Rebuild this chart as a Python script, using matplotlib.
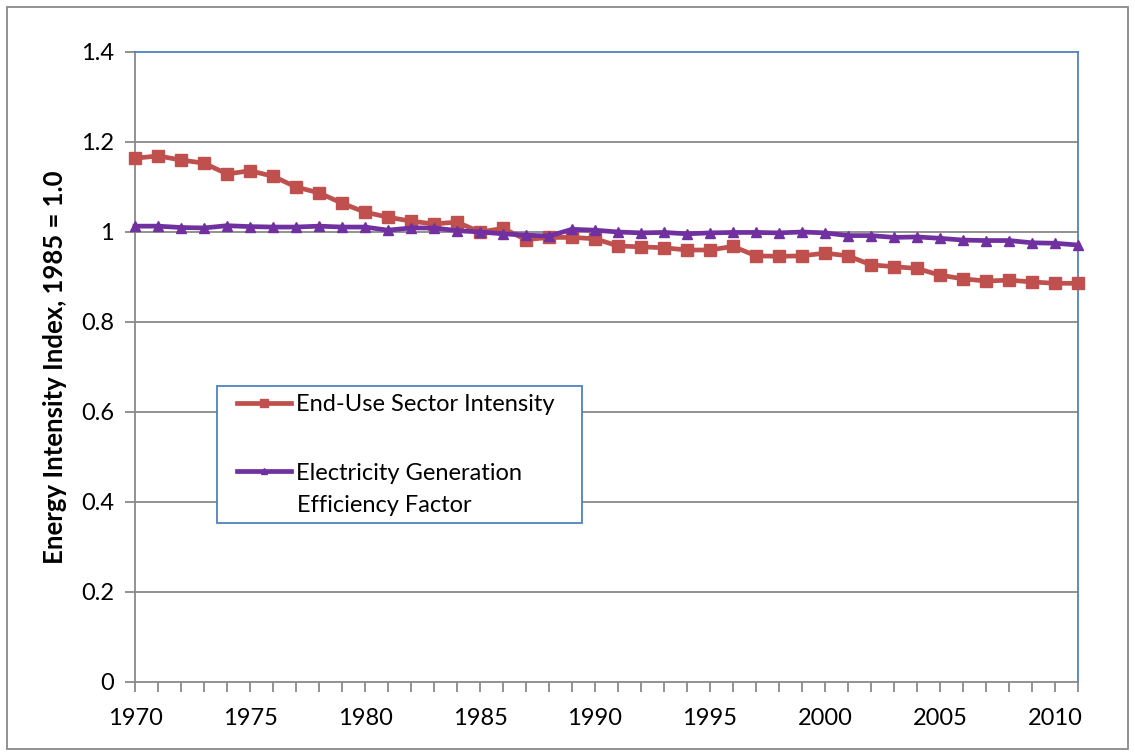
import matplotlib
matplotlib.use("Agg")
import matplotlib.pyplot as plt
from matplotlib.patches import Rectangle
from matplotlib.ticker import MultipleLocator

plt.rcParams["font.family"] = ["Lato", "DejaVu Sans"]

years = list(range(1970, 2012))
end_use = [
    1.164, 1.169, 1.160, 1.153, 1.129, 1.136, 1.124, 1.100, 1.087, 1.064,
    1.044, 1.033, 1.024, 1.018, 1.022, 1.000, 1.008, 0.983, 0.988, 0.988,
    0.985, 0.969, 0.967, 0.965, 0.960, 0.960, 0.968, 0.947, 0.946, 0.947,
    0.953, 0.947, 0.927, 0.923, 0.919, 0.904, 0.896, 0.891, 0.893, 0.889,
    0.886, 0.886,
]
elec_gen = [
    1.013, 1.013, 1.010, 1.009, 1.014, 1.012, 1.011, 1.011, 1.013, 1.011,
    1.011, 1.004, 1.009, 1.009, 1.003, 1.000, 0.996, 0.993, 0.991, 1.006,
    1.004, 1.000, 0.998, 0.999, 0.996, 0.998, 0.999, 0.999, 0.998, 1.000,
    0.998, 0.992, 0.992, 0.988, 0.989, 0.986, 0.982, 0.981, 0.981, 0.976,
    0.975, 0.971,
]
labels = ["End-Use Sector Intensity", "Electricity Generation"]
label_cont = "Efficiency Factor"  # second line of the second legend entry
y_ticks = [0, 0.2, 0.4, 0.6, 0.8, 1.0, 1.2, 1.4]
y_tick_labels = ["0", "0.2", "0.4", "0.6", "0.8", "1", "1.2", "1.4"]

W, H = 1135, 756


def fx(px):
    return px / W


def fy(py):
    return 1 - py / H


fig = plt.figure(figsize=(W / 100, H / 100), dpi=100)
ax = fig.add_axes([fx(135), fy(682), fx(1078 - 135), (682 - 52) / H])

grid_c = "#898989"
blue = "#4F81BD"

for y in y_ticks[1:-1]:
    ax.axhline(y, color=grid_c, lw=1.3, zorder=1)

ax.plot(years, end_use, color="#C0504D", lw=3.4, marker="s", ms=8.5,
        label=labels[0], zorder=3, clip_on=False)
ax.plot(years, elec_gen, color="#7030A0", lw=3.4, marker="^", ms=6.5,
        label=labels[1], zorder=4, clip_on=False)

ax.set_xlim(1970, 2011)
ax.set_ylim(0, 1.4)
ax.set_xticks(list(range(1970, 2011, 5)))
ax.xaxis.set_minor_locator(MultipleLocator(1))
ax.set_yticks(y_ticks)
ax.set_yticklabels(y_tick_labels)

ax.tick_params(axis="both", which="both", direction="out", color=grid_c,
               width=1.3, labelsize=17, labelcolor="black")
ax.tick_params(axis="x", which="major", length=7, pad=12)
ax.tick_params(axis="x", which="minor", length=7)
ax.tick_params(axis="y", which="major", length=7, pad=8)

for side in ["left", "bottom"]:
    ax.spines[side].set_color(grid_c)
    ax.spines[side].set_linewidth(1.3)
for side in ["top", "right"]:
    ax.spines[side].set_color(blue)
    ax.spines[side].set_linewidth(1.3)

ax.set_ylabel("Energy Intensity Index, 1985 = 1.0", fontsize=18.5,
              fontweight="bold", labelpad=10)

# legend frame drawn separately: x 217..582, y 386..523 px
fig.patches.append(Rectangle((fx(217), fy(523)), fx(582 - 217), (523 - 386) / H,
                             transform=fig.transFigure, facecolor="white",
                             edgecolor=blue, lw=1.3, zorder=5))
leg = fig.legend(loc="upper left", bbox_to_anchor=(fx(237), fy(394)),
                 fontsize=17, frameon=False, borderpad=0, borderaxespad=0,
                 handlelength=2.3, handletextpad=0.2, labelspacing=2.02,
                 markerscale=0.7)
leg.set_zorder(6)
fig.text(fx(297), fy(506), label_cont, fontsize=17, va="center", ha="left",
         zorder=6)

fig.patches.append(Rectangle((fx(7), fy(H - 7)), fx(W - 14), (H - 14) / H,
                             transform=fig.transFigure, fill=False,
                             edgecolor="#898989", lw=1.3))

fig.savefig("out.png", dpi=100)
